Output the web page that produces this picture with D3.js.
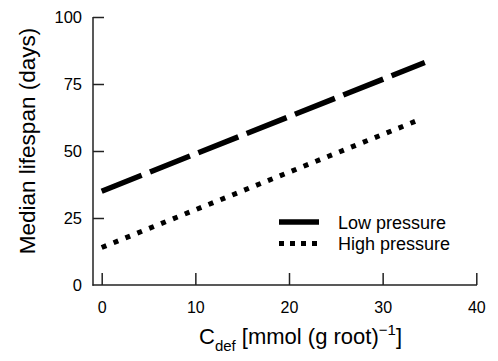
<html lang="en">
<head>
<meta charset="UTF-8">
<script src="https://d3js.org/d3.v7.min.js"></script>
<title>Median lifespan</title>
<style>
  body { margin: 0; background: #fff; }
  text { font-family: "Liberation Sans", Arial, sans-serif; fill: #000; }
</style>
<script>
var xTicks = [0, 10, 20, 30, 40];
var yTicks = [0, 25, 50, 75, 100];
var lowX = [0, 34.5];
var lowY = [35, 83];
var highX = [0, 33.8];
var highY = [14, 61.5];
var seriesNames = ["Low pressure", "High pressure"];

function main(){
  var svg = d3.select("svg");
  var x = d3.scaleLinear().domain([0, 40]).range([101.7, 476.3]);
  var y = d3.scaleLinear().domain([0, 100]).range([285, 17]);
  var axisColor = "#222";

  // axes
  var gx = svg.append("g").attr("transform", "translate(0,285)");
  gx.call(d3.axisBottom(x).tickValues(xTicks).tickSize(-12).tickPadding(17).tickSizeOuter(0));
  gx.select(".domain").remove();
  gx.selectAll("line").attr("stroke", axisColor).attr("stroke-width", 1.5);
  gx.selectAll("text").attr("font-size", 16).attr("font-family", "Liberation Sans, Arial, sans-serif");
  svg.append("line").attr("x1", 92.5).attr("x2", 477).attr("y1", 285).attr("y2", 285)
     .attr("stroke", axisColor).attr("stroke-width", 1.5);

  var gy = svg.append("g").attr("transform", "translate(93,0)");
  gy.call(d3.axisLeft(y).tickValues(yTicks).tickSize(-11).tickPadding(11).tickSizeOuter(0));
  gy.select(".domain").remove();
  gy.selectAll(".tick").filter(function(d){ return d === 0; }).select("line").remove();
  gy.selectAll("line").attr("stroke", axisColor).attr("stroke-width", 1.5);
  gy.selectAll("text").attr("font-size", 16.5).attr("font-family", "Liberation Sans, Arial, sans-serif");
  svg.append("line").attr("x1", 93).attr("x2", 93).attr("y1", 17).attr("y2", 285.75)
     .attr("stroke", axisColor).attr("stroke-width", 1.5);

  var line = d3.line().x(function(d){ return x(d[0]); }).y(function(d){ return y(d[1]); });
  var low = d3.zip(lowX, lowY), high = d3.zip(highX, highY);

  svg.append("path").datum(low).attr("d", line)
     .attr("fill", "none").attr("stroke", "#000").attr("stroke-width", 5.5)
     .attr("stroke-dasharray", "43,9");
  svg.append("path").datum(high).attr("d", line)
     .attr("fill", "none").attr("stroke", "#000").attr("stroke-width", 5)
     .attr("stroke-dasharray", "5,7.8");

  // legend
  var styles = [{w: 5.5, dash: null}, {w: 5, dash: "5,6"}];
  var leg = svg.append("g");
  seriesNames.forEach(function(name, i){
    var yy = 222 + i * 21.5;
    leg.append("line").attr("x1", 279).attr("x2", 319).attr("y1", yy).attr("y2", yy)
       .attr("stroke", "#000").attr("stroke-width", styles[i].w)
       .attr("stroke-dasharray", styles[i].dash);
    leg.append("text").attr("x", 338).attr("y", yy + 6.5).attr("font-size", 18).text(name);
  });

  // axis titles
  svg.append("text").attr("transform", "translate(35,141) rotate(-90)")
     .attr("text-anchor", "middle").attr("font-size", 22.5).text("Median lifespan (days)");

  var t = svg.append("text").attr("x", 402).attr("y", 344).attr("font-size", 22)
     .attr("text-anchor", "end");
  t.append("tspan").text("C");
  t.append("tspan").attr("font-size", 15).attr("dy", 7).text("def");
  t.append("tspan").attr("dy", -7).text(" [mmol (g root)");
  t.append("tspan").attr("font-size", 15).attr("dy", -9).text("\u22121");
  t.append("tspan").attr("dy", 9).text("]");
}
</script>
</head>
<body onload="main();">
<svg width="498" height="361"></svg>
</body>
</html>
